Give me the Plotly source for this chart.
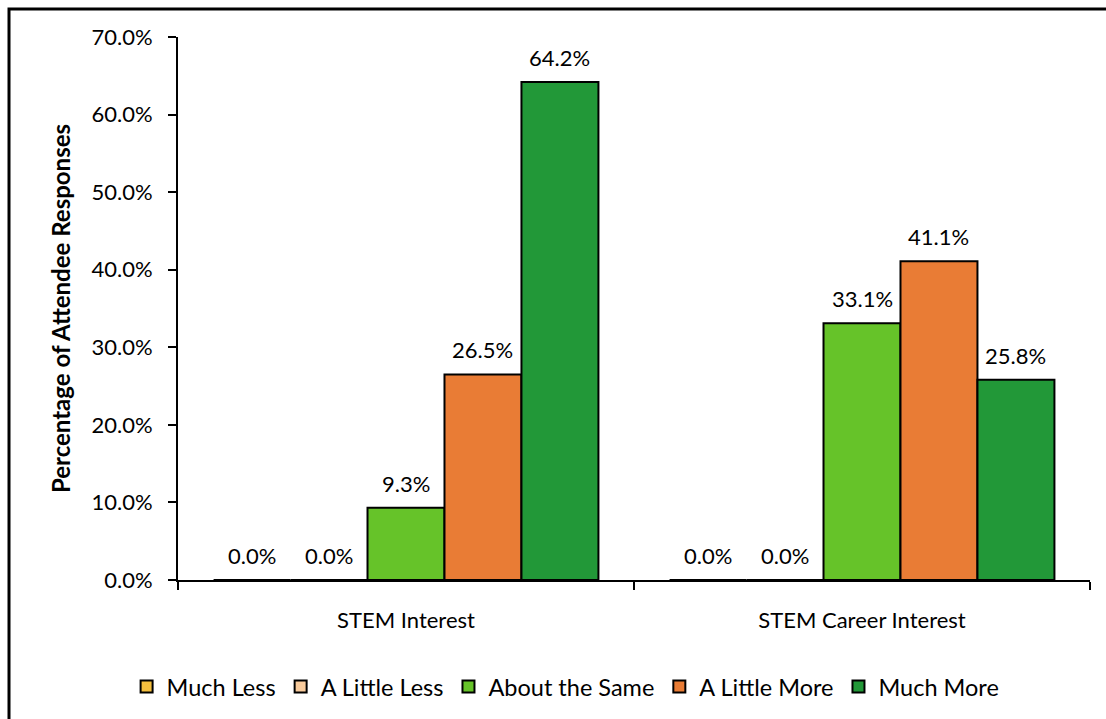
import plotly.graph_objects as go

categories = ["STEM Interest", "STEM Career Interest"]
series_names = ["Much Less", "A Little Less", "About the Same", "A Little More", "Much More"]
much_less = [0.0, 0.0]
a_little_less = [0.0, 0.0]
about_the_same = [9.3, 33.1]
a_little_more = [26.5, 41.1]
much_more = [64.2, 25.8]
y_ticks = [0, 10, 20, 30, 40, 50, 60, 70]

series_values = [much_less, a_little_less, about_the_same, a_little_more, much_more]
colors = ["#F4BF3E", "#F9CB9C", "#66C329", "#E97C35", "#229838"]

FONT = "Lato, 'Open Sans', sans-serif"
BARGAP = 0.156

fig = go.Figure()
for name, vals, col in zip(series_names, series_values, colors):
    fig.add_trace(go.Bar(
        name=name,
        x=categories,
        y=vals,
        marker=dict(color=col, line=dict(color="black", width=2)),
    ))

# value labels above each bar, placed at the grouped-bar centres
n = len(series_names)
bar_w = (1 - BARGAP) / n
annotations = []
for i, vals in enumerate(series_values):
    offset = -(1 - BARGAP) / 2 + (i + 0.5) * bar_w
    for c, v in enumerate(vals):
        annotations.append(dict(
            x=c + offset, y=v, xref="x", yref="y",
            text=f"{v:.1f}%", showarrow=False,
            xanchor="center", yanchor="bottom", yshift=9,
            font=dict(family=FONT, size=22, color="black"),
        ))

fig.update_layout(
    width=1106, height=719,
    barmode="group",
    bargap=BARGAP,
    bargroupgap=0,
    plot_bgcolor="white",
    paper_bgcolor="white",
    margin=dict(l=178, r=16, t=37, b=139, autoexpand=False),
    font=dict(family=FONT, size=22, color="black"),
    showlegend=True,
    legend=dict(
        orientation="h", x=0.425, xanchor="center", y=-0.156, yanchor="top",
        font=dict(family=FONT, size=23.5, color="black"),
        itemwidth=30, tracegroupgap=0,
    ),
    xaxis=dict(
        automargin=False,
        showline=True, linecolor="black", linewidth=2,
        ticks="outside", tickson="boundaries", ticklen=8, tickwidth=2, tickcolor="black",
        tickfont=dict(family=FONT, size=22),
        ticklabelstandoff=20,
        showgrid=False,
    ),
    yaxis=dict(
        automargin=False,
        range=[0, 70],
        tickvals=y_ticks,
        ticktext=[f"{v:.1f}%" for v in y_ticks],
        showline=True, linecolor="black", linewidth=2,
        ticks="outside", ticklen=8, tickwidth=2, tickcolor="black",
        tickfont=dict(family=FONT, size=22),
        ticklabelstandoff=11,
        showgrid=False, zeroline=False,
        title=dict(text="<b>Percentage of Attendee Responses</b>",
                   font=dict(family=FONT, size=24), standoff=14),
    ),
    annotations=annotations,
    shapes=[dict(
        type="rect", xref="paper", yref="paper",
        x0=-0.1853, x1=1.05, y0=-0.5, y1=1.0516,
        line=dict(color="black", width=3), fillcolor="rgba(0,0,0,0)",
        layer="above",
    )],
)

fig.write_html("out.html")
